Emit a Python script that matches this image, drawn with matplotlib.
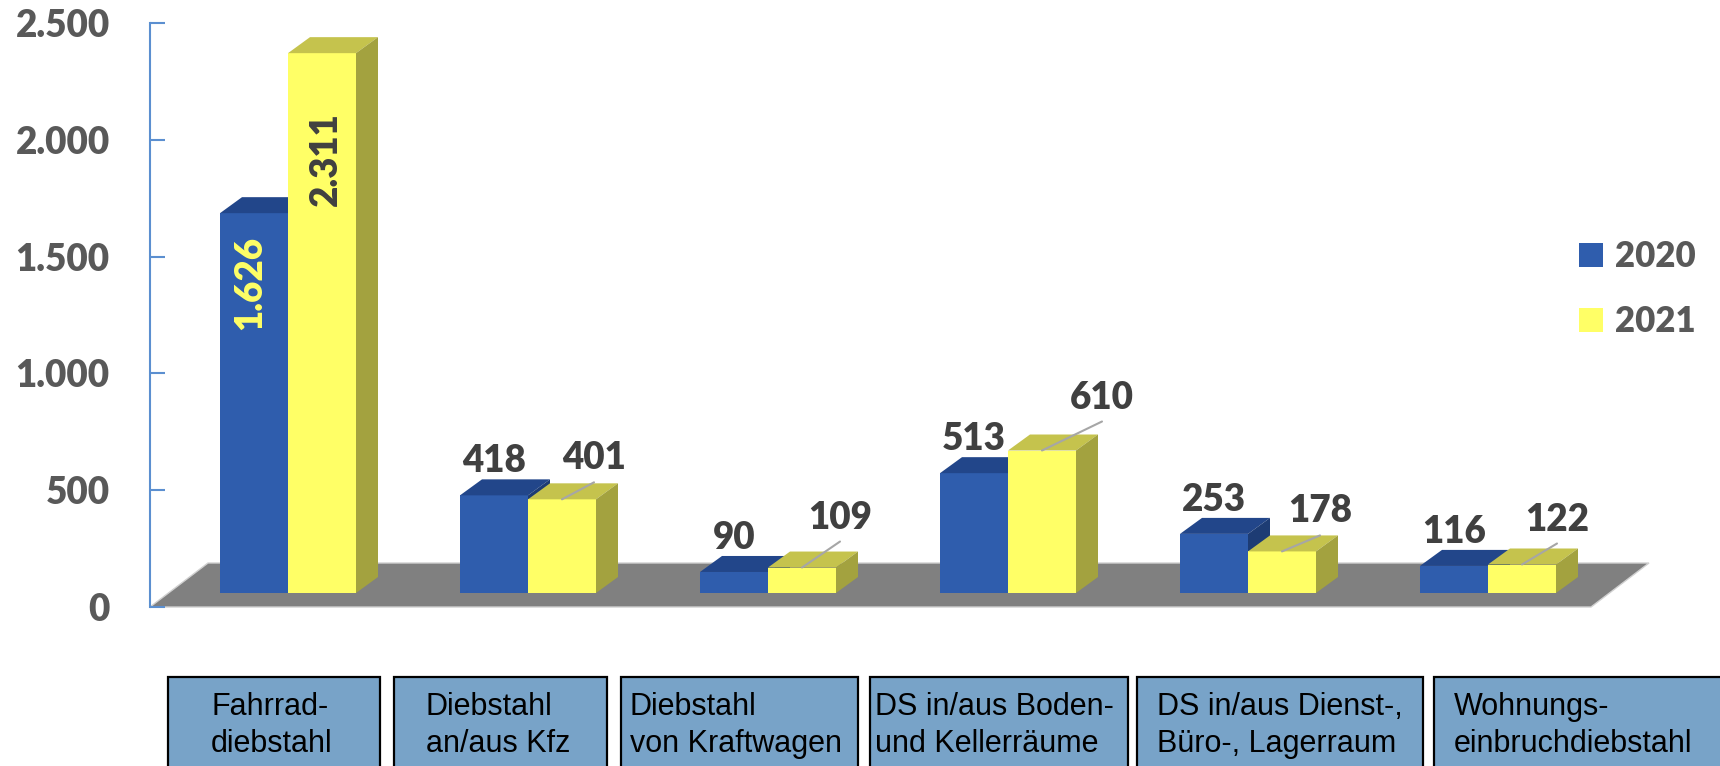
import matplotlib
matplotlib.use("Agg")
import matplotlib.pyplot as plt
from matplotlib.patches import Polygon, Rectangle, Patch

categories = [
    "Fahrrad-\ndiebstahl",
    "Diebstahl\nan/aus Kfz",
    "Diebstahl\nvon Kraftwagen",
    "DS in/aus Boden-\nund Kellerräume",
    "DS in/aus Dienst-,\nBüro-, Lagerraum",
    "Wohnungs-\neinbruchdiebstahl",
]
v2020 = [1626, 418, 90, 513, 253, 116]
v2021 = [2311, 401, 109, 610, 178, 122]
years = ["2020", "2021"]
yticks = [0, 500, 1000, 1500, 2000, 2500]

# colours
BLUE = ("#2F5DAD", "#22468A", "#1D3C74")      # front, top, side
YELLOW = ("#FFFF66", "#C5C34D", "#A3A23F")
FLOOR = "#808080"
LABEL = "#404040"
TICK = "#595959"
AXIS = "#5B8FD0"
BOX = "#78A3C8"

# layout (pixels at dpi 100)
W_PX, H_PX = 1720, 766
PX_CAT = 240.0        # px between groups
PX_VAL = 0.2336       # px per unit value
X0_PX = 288           # blue/yellow boundary of first group
Y0_PX = 593           # bar baseline (from top)
BAR_W = 68 / PX_CAT
DX, DY = 22 / PX_CAT, 16 / PX_VAL   # bar depth

fig = plt.figure(figsize=(W_PX / 100, H_PX / 100), dpi=100)
ax = fig.add_axes([0, 0, 1, 1])
ax.set_xlim(-X0_PX / PX_CAT, (W_PX - X0_PX) / PX_CAT)
ax.set_ylim(-(H_PX - Y0_PX) / PX_VAL, Y0_PX / PX_VAL)
ax.axis("off")

# floor
fx0, fx1 = (150 - X0_PX) / PX_CAT, (1591 - X0_PX) / PX_CAT
fy0, fy1 = -14 / PX_VAL, 30 / PX_VAL
fdx = 58 / PX_CAT
ax.add_patch(Polygon([(fx0, fy0), (fx1, fy0), (fx1 + fdx, fy1), (fx0 + fdx, fy1)],
                     closed=True, facecolor=FLOOR, edgecolor="#D0D0D0", lw=1, zorder=1))


def bar3d(x_left, h, cols, z):
    x_right = x_left + BAR_W
    ax.bar(x_left, h, width=BAR_W, align="edge", color=cols[0], zorder=z)
    ax.add_patch(Polygon([(x_left, h), (x_right, h), (x_right + DX, h + DY), (x_left + DX, h + DY)],
                         closed=True, facecolor=cols[1], edgecolor="none", zorder=z))
    ax.add_patch(Polygon([(x_right, 0), (x_right, h), (x_right + DX, h + DY), (x_right + DX, DY)],
                         closed=True, facecolor=cols[2], edgecolor="none", zorder=z))


for i in range(len(categories)):
    bar3d(i - BAR_W, v2020[i], BLUE, 2 + 2 * i)
    bar3d(i, v2021[i], YELLOW, 3 + 2 * i)

fmt = lambda v: f"{v:,}".replace(",", ".")
FAM = ["Lato", "DejaVu Sans"]
lab_font = dict(family=FAM, weight="heavy", size=26.5)
P = 0.72  # px -> pt

# labels of first group: rotated, inside the bars
ax.annotate(fmt(v2020[0]), xy=(-BAR_W / 2, v2020[0]), xytext=(-4 * P, -70 * P),
            textcoords="offset points", rotation=90, ha="center", va="center",
            color="#FFFF66", zorder=30, **lab_font)
ax.annotate(fmt(v2021[0]), xy=(BAR_W / 2, v2021[0]), xytext=(4 * P, -106 * P),
            textcoords="offset points", rotation=90, ha="center", va="center",
            color=LABEL, zorder=30, **lab_font)

# other groups: above the bars, 2021 with leader lines
y_dx = [0, 32, 38, 60, 38, 35]
y_up = [0, 30, 39, 42, 29, 34]
for i in range(1, len(categories)):
    ax.annotate(fmt(v2020[i]), xy=(i - BAR_W / 2, v2020[i]), xytext=(0, 23 * P),
                textcoords="offset points", ha="center", va="baseline",
                color=LABEL, zorder=30, **lab_font)
    ax.annotate(fmt(v2021[i]), xy=(i + BAR_W / 2, v2021[i]), xytext=(y_dx[i] * P, y_up[i] * P),
                textcoords="offset points", ha="center", va="baseline",
                color=LABEL, zorder=30, **lab_font)
    ax.annotate("", xy=(i + BAR_W / 2, v2021[i]), xytext=(y_dx[i] * P, (y_up[i] - 13) * P),
                textcoords="offset points", zorder=29,
                arrowprops=dict(arrowstyle="-", color="#A6A6A6", lw=1.5, shrinkA=0, shrinkB=0))

# y axis
ay = fig.add_axes([150 / W_PX, (H_PX - 607) / H_PX, 1 / W_PX, 584 / H_PX])
ay.set_ylim(0, 2500)
ay.set_yticks(yticks)
ay.set_yticklabels([fmt(v) for v in yticks])
ay.set_xticks([])
ay.patch.set_visible(False)
for s in ["top", "right", "bottom"]:
    ay.spines[s].set_visible(False)
ay.spines["left"].set_color(AXIS)
ay.spines["left"].set_linewidth(1.5)
ay.tick_params(axis="y", direction="in", length=15 * P, width=1.5, color=AXIS,
               pad=29, labelcolor=TICK)
for t in ay.get_yticklabels():
    t.set_fontfamily(FAM)
    t.set_fontweight("heavy")
    t.set_fontsize(26.5)

# legend
handles = [Patch(facecolor=BLUE[0]), Patch(facecolor=YELLOW[0])]
leg = fig.legend(handles, years, loc="upper left", bbox_to_anchor=(1579 / W_PX, 1 - 240 / H_PX),
                 frameon=False, borderpad=0, borderaxespad=0, handlelength=0.69,
                 handleheight=0.69, handletextpad=0.35, labelspacing=0.93,
                 prop=dict(family=FAM, weight="heavy", size=25))
for t in leg.get_texts():
    t.set_color(TICK)

# category boxes
box_edges = [(168, 380), (394, 607), (621, 858), (870, 1128), (1137, 1423), (1434, 1740)]
text_left = [211, 426, 630, 875, 1157, 1454]
for (b0, b1), tx, cat in zip(box_edges, text_left, categories):
    fig.patches.append(Rectangle((b0 / W_PX, -0.05), (b1 - b0) / W_PX, (H_PX - 677) / H_PX + 0.05,
                                 transform=fig.transFigure, facecolor=BOX, edgecolor="black",
                                 lw=1.6, zorder=1))
    for k, line in enumerate(cat.split("\n")):
        fig.text(tx / W_PX, 1 - (715 + 37 * k) / H_PX, line, ha="left", va="baseline",
                 fontfamily="Liberation Sans", fontsize=22, color="black", zorder=2)

fig.savefig("out.png", dpi=100)
